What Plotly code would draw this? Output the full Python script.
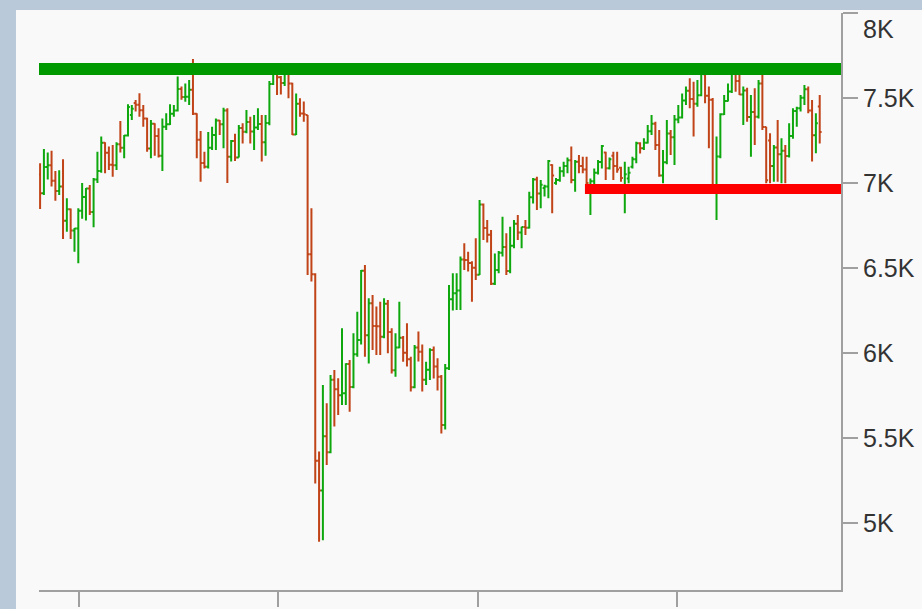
import pandas as pd
import plotly.graph_objects as go

# ---- weekly OHLC values ----
opens = [
    7050, 6940, 7094, 7105, 7014, 6953, 6980, 6778, 6845, 6721,
    6733, 6837, 6918, 6968, 6830, 7020, 7071, 7237, 7178, 7107,
    7104, 7228, 7207, 7279, 7400, 7470, 7460, 7428, 7380, 7203,
    7348, 7277, 7161, 7331, 7345, 7407, 7426, 7553, 7506, 7508,
    7549, 7407, 7254, 7117, 7095, 7207, 7282, 7367, 7345, 7426,
    7155, 7247, 7150, 7324, 7302, 7359, 7303, 7326, 7347, 7239,
    7353, 7582, 7645, 7622, 7588, 7650, 7586, 7286, 7466, 7409,
    7400, 6581, 6463, 5366, 5191, 5510, 5416, 5843, 5787, 5752,
    5763, 5936, 5800, 5993, 6076, 6484, 6105, 6292, 6159, 6157,
    6095, 6290, 6123, 5898, 6032, 6090, 6001, 5964, 5799, 6032,
    6007, 5843, 5902, 6017, 5920, 5860, 5577, 5910, 6316, 6351,
    6368, 6550, 6547, 6529, 6502, 6461, 6873, 6736, 6695, 6407,
    6489, 6590, 6624, 6483, 6631, 6761, 6709, 6741, 6737, 6916,
    7020, 6938, 6970, 6980, 7106, 7000, 7018, 7069, 7100, 7134,
    7017, 7125, 7100, 7080, 6960, 7010, 7060, 7123, 7180, 7087,
    7160, 7100, 7090, 6963, 7027, 7095, 7140, 7234, 7205, 7237,
    7304, 7348, 7223, 7044, 7122, 7291, 7269, 7373, 7385, 7485,
    7543, 7494, 7466, 7516, 7640, 7513, 7489, 6987, 7156, 7405,
    7483, 7538, 7650, 7600, 7521, 7544, 7388, 7418, 7390, 7585,
    7330, 7250, 7100, 7209, 7169, 7189, 7159, 7276, 7423, 7440,
    7501, 7551, 7427, 7281, 7450,
]
highs = [
    7116, 7200, 7180, 7190, 7070, 7075, 7140, 6910, 6850, 6735,
    6851, 7000, 6970, 6988, 7030, 7184, 7273, 7239, 7214, 7224,
    7239, 7365, 7282, 7463, 7459, 7488, 7528, 7459, 7384, 7371,
    7351, 7322, 7380, 7410, 7463, 7459, 7626, 7567, 7586, 7606,
    7729, 7410, 7306, 7184, 7300, 7331, 7380, 7371, 7443, 7439,
    7253, 7290, 7341, 7351, 7430, 7390, 7400, 7439, 7400, 7400,
    7600, 7650, 7660, 7630, 7665, 7655, 7590, 7527, 7498, 7479,
    7400, 6851, 6469, 5420, 5812, 5704, 5870, 5900, 5851, 6145,
    5940, 5959, 6116, 6243, 6488, 6518, 6322, 6341, 6273, 6302,
    6322, 6312, 6145, 6116, 6302, 6100, 6175, 5978, 6047, 6126,
    6050, 5949, 6028, 6038, 5969, 5870, 5935, 6400, 6469, 6469,
    6567, 6645, 6596, 6540, 6675, 6900, 6880, 6782, 6724, 6586,
    6600, 6802, 6704, 6743, 6782, 6812, 6743, 6782, 6949, 7030,
    7037, 7018, 6990, 7135, 7110, 7030, 7096, 7125, 7150, 7214,
    7135, 7165, 7155, 7155, 7027, 7086, 7135, 7224, 7184, 7150,
    7184, 7184, 7096, 7125, 7096, 7155, 7243, 7240, 7263, 7341,
    7400, 7361, 7312, 7194, 7371, 7312, 7400, 7459, 7527, 7567,
    7616, 7596, 7606, 7675, 7645, 7567, 7500, 7273, 7410, 7518,
    7586, 7670, 7660, 7635, 7567, 7560, 7518, 7557, 7606, 7645,
    7331, 7292, 7224, 7371, 7263, 7224, 7351, 7439, 7449, 7518,
    7576, 7567, 7488, 7410, 7518,
]
lows = [
    6847, 6930, 7020, 6980, 6896, 6930, 6670, 6714, 6671, 6596,
    6528, 6790, 6780, 6812, 6740, 7000, 7060, 7057, 7077, 7037,
    7077, 7180, 7145, 7273, 7371, 7420, 7390, 7331, 7184, 7145,
    7160, 7150, 7071, 7312, 7341, 7390, 7420, 7490, 7478, 7459,
    7400, 7145, 7008, 7086, 7086, 7194, 7194, 7282, 7204, 7000,
    7126, 7130, 7150, 7233, 7292, 7233, 7194, 7312, 7126, 7160,
    7340, 7577, 7518, 7520, 7570, 7498, 7282, 7282, 7390, 7361,
    6459, 6420, 5233, 4890, 4899, 5341, 5410, 5567, 5635, 5694,
    5694, 5655, 5792, 5978, 6050, 5978, 5939, 6018, 5988, 5988,
    6087, 5998, 5880, 5861, 6028, 5949, 5920, 5773, 5792, 5950,
    5773, 5812, 5841, 5850, 5780, 5526, 5550, 5900, 6250, 6253,
    6253, 6488, 6480, 6302, 6430, 6459, 6665, 6650, 6400, 6400,
    6469, 6567, 6459, 6469, 6616, 6665, 6616, 6694, 6733, 6880,
    6841, 6851, 6920, 6910, 6822, 6990, 7008, 7037, 7057, 6998,
    6949, 7057, 7057, 6969, 6812, 6949, 7050, 7086, 7018, 7080,
    7018, 7060, 7008, 6822, 6998, 7086, 7116, 7174, 7194, 7233,
    7282, 7194, 7037, 6998, 7110, 7165, 7106, 7351, 7380, 7459,
    7439, 7273, 7449, 7510, 7469, 7204, 6960, 6782, 7145, 7400,
    7480, 7530, 7537, 7518, 7341, 7361, 7155, 7224, 7380, 7312,
    6998, 6998, 7008, 7008, 6998, 6998, 7150, 7260, 7331, 7420,
    7459, 7410, 7126, 7175, 7233,
]
closes = [
    6940, 7094, 7105, 7014, 6953, 6980, 6778, 6845, 6721, 6733,
    6837, 6918, 6968, 6830, 7020, 7071, 7237, 7178, 7107, 7104,
    7228, 7207, 7279, 7447, 7437, 7460, 7428, 7380, 7203, 7348,
    7277, 7161, 7331, 7345, 7407, 7426, 7553, 7506, 7508, 7549,
    7407, 7254, 7117, 7095, 7207, 7282, 7367, 7345, 7426, 7155,
    7247, 7150, 7324, 7302, 7359, 7303, 7326, 7347, 7239, 7353,
    7582, 7645, 7622, 7588, 7650, 7586, 7286, 7466, 7409, 7404,
    6581, 6463, 5366, 5191, 5510, 5416, 5843, 5787, 5752, 5763,
    5936, 5800, 5993, 6076, 6484, 6105, 6292, 6159, 6157, 6095,
    6290, 6123, 5898, 6032, 6090, 6001, 5964, 5799, 6032, 6007,
    5843, 5902, 6017, 5920, 5860, 5577, 5910, 6316, 6351, 6368,
    6550, 6547, 6529, 6502, 6461, 6873, 6736, 6695, 6407, 6489,
    6590, 6624, 6483, 6631, 6761, 6709, 6741, 6737, 6916, 7020,
    6938, 6990, 6980, 7130, 7044, 7018, 7069, 7100, 7134, 7017,
    7125, 7100, 7080, 7000, 7010, 7060, 7123, 7218, 7087, 7140,
    7100, 7080, 7029, 7051, 7060, 7140, 7234, 7205, 7237, 7304,
    7348, 7223, 7044, 7122, 7291, 7269, 7373, 7385, 7485, 7543,
    7494, 7466, 7516, 7661, 7513, 7489, 6987, 7156, 7405, 7483,
    7538, 7650, 7600, 7521, 7544, 7388, 7418, 7390, 7585, 7330,
    7016, 7100, 7209, 7169, 7189, 7159, 7276, 7423, 7440, 7501,
    7551, 7427, 7281, 7351, 7300,
]
first_week = "2018-10-22"
dates = pd.date_range(first_week, periods=len(closes), freq="W-MON")

# horizontal levels
resistance_level = 7670
resistance_dates = ["2018-10-20", "2022-10-28"]
support_level = 6965
support_dates = ["2021-07-16", "2022-10-28"]

# axis ticks
x_range = ["2018-10-20", "2022-10-28"]
year_ticks = ["2019-01-01", "2020-01-01", "2021-01-01", "2022-01-01"]
y_tick_vals = [5000, 5500, 6000, 6500, 7000, 7500, 8000]
y_tick_text = ["5K", "5.5K", "6K", "6.5K", "7K", "7.5K", ""]
top_label = "8K"
y_range = [4606, 8000]

UP = "#0ea80e"
DOWN = "#c04418"
AXIS = "#a0a0a0"
FONT = "Liberation Sans, Arial, sans-serif"
OUTER = "#b9c9da"
PANEL = "#f9f9f9"

fig = go.Figure()
fig.add_trace(go.Scatter(
    x=resistance_dates, y=[resistance_level, resistance_level], mode="lines",
    line=dict(color="#009900", width=12), hoverinfo="skip", showlegend=False))
fig.add_trace(go.Scatter(
    x=support_dates, y=[support_level, support_level], mode="lines",
    line=dict(color="#ff0000", width=10), hoverinfo="skip", showlegend=False))
fig.add_trace(go.Ohlc(
    x=dates, open=opens, high=highs, low=lows, close=closes,
    increasing=dict(line=dict(color=UP, width=2)),
    decreasing=dict(line=dict(color=DOWN, width=2)),
    tickwidth=0.5, showlegend=False))

fig.update_layout(
    width=922, height=609, autosize=False,
    margin=dict(l=39, r=81, t=13, b=19, pad=0),
    paper_bgcolor=OUTER, plot_bgcolor=PANEL,
    showlegend=False,
    font=dict(family=FONT, size=25, color="#333333"),
    shapes=[dict(type="rect", xref="paper", yref="paper",
                 x0=-0.0287, x1=1.2, y0=-0.2, y1=1.0052,
                 fillcolor=PANEL, line=dict(width=0), layer="below")],
    xaxis=dict(type="date", range=x_range, rangeslider=dict(visible=False),
               automargin=False,
               showgrid=False, zeroline=False, showline=True,
               linecolor=AXIS, linewidth=2, ticks="outside", ticklen=15,
               tickwidth=2, tickcolor=AXIS, tickvals=year_ticks,
               showticklabels=False, fixedrange=True),
    yaxis=dict(side="right", range=y_range, automargin=False,
               showgrid=False, zeroline=False,
               showline=True, linecolor=AXIS, linewidth=2, ticks="outside",
               ticklen=15, tickwidth=2, tickcolor=AXIS,
               tickvals=y_tick_vals, ticktext=y_tick_text,
               tickfont=dict(family=FONT, size=25, color="#333333")),
    annotations=[dict(text=top_label, xref="paper", yref="y", x=1, y=y_range[1],
                      xanchor="left", yanchor="middle", xshift=20, yshift=-16,
                      showarrow=False,
                      font=dict(family=FONT, size=25, color="#333333"))],
)

# page without the default body margin so the figure fills the window exactly
page_js = ("document.body.style.margin='0';"
           "document.body.style.overflow='hidden';"
           "document.body.style.background='" + OUTER + "';")
fig.write_html("out.html", post_script=page_js,
               config={"displayModeBar": False})
